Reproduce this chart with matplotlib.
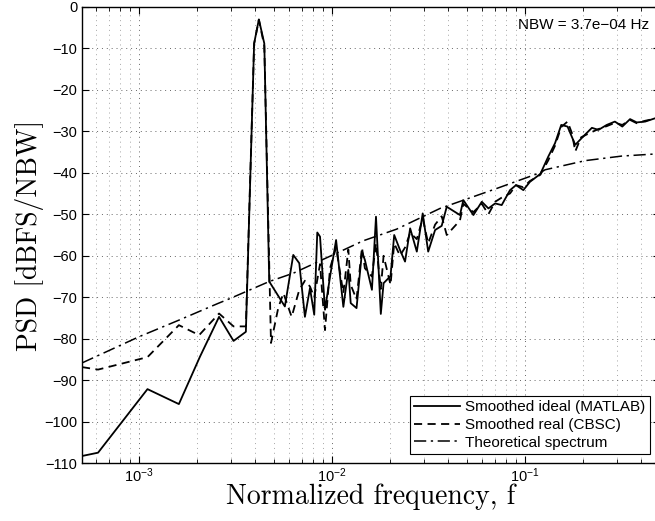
import numpy as np
import matplotlib.pyplot as plt
from matplotlib.ticker import LogLocator, NullFormatter

plt.rcParams['font.family'] = ['Liberation Sans', 'DejaVu Sans']
plt.rcParams['mathtext.fontset'] = 'custom'
plt.rcParams['mathtext.rm'] = 'Liberation Sans'
plt.rcParams['mathtext.it'] = 'Liberation Sans:italic'
plt.rcParams['mathtext.default'] = 'regular'

# Smoothed ideal (MATLAB)
f_ideal = [5.07e-4, 6.14e-4, 1.107e-3, 1.61e-3, 2.07e-3, 2.60e-3, 3.09e-3, 3.58e-3,
           3.95e-3, 4.18e-3, 4.46e-3, 4.73e-3, 5.70e-3, 6.30e-3, 6.77e-3, 7.24e-3,
           7.69e-3, 8.09e-3, 8.39e-3, 8.67e-3, 9.20e-3, 9.77e-3, 1.05e-2, 1.145e-2,
           1.215e-2, 1.25e-2, 1.34e-2, 1.43e-2, 1.48e-2, 1.61e-2, 1.69e-2, 1.79e-2,
           1.85e-2, 2.01e-2, 2.10e-2, 2.25e-2, 2.39e-2, 2.54e-2, 2.75e-2, 2.95e-2,
           3.15e-2, 3.42e-2, 3.70e-2, 3.93e-2, 4.60e-2, 4.79e-2, 5.40e-2, 5.97e-2,
           6.46e-2, 7.00e-2, 7.57e-2, 8.36e-2, 8.98e-2, 9.80e-2, 0.106, 0.120,
           0.132, 0.143, 0.154, 0.166, 0.182, 0.200, 0.222, 0.240, 0.265, 0.292,
           0.319, 0.350, 0.379, 0.419, 0.472, 0.5]
psd_ideal = [-108.2, -107.4, -92.1, -95.7, -84.3, -74.7, -80.5, -78.3,
             -8.9, -3.1, -8.9, -66.2, -72.2, -59.8, -61.8, -74.7,
             -67.8, -74.2, -54.4, -55.4, -73.0, -65.0, -56.2, -72.3,
             -63.4, -71.4, -72.6, -59.0, -61.0, -68.2, -50.6, -74.0,
             -66.6, -64.9, -55.0, -58.6, -61.4, -53.4, -59.0, -49.8,
             -59.0, -53.8, -52.8, -48.2, -50.2, -46.6, -50.2, -47.0,
             -48.6, -47.4, -47.8, -44.2, -43.0, -44.2, -42.2, -40.3,
             -36.1, -32.9, -28.5, -28.9, -33.3, -31.3, -29.2, -29.7, -28.5, -27.7,
             -28.9, -27.1, -27.9, -27.7, -26.9, -26.8]

# Smoothed real (CBSC)
f_real = [5.07e-4, 6.14e-4, 1.107e-3, 1.61e-3, 2.05e-3, 2.60e-3, 3.09e-3, 3.58e-3,
          3.95e-3, 4.18e-3, 4.46e-3, 4.83e-3, 5.27e-3, 5.60e-3, 6.18e-3, 6.77e-3,
          7.24e-3, 7.69e-3, 8.09e-3, 8.67e-3, 9.20e-3, 9.77e-3, 1.05e-2, 1.145e-2,
          1.215e-2, 1.25e-2, 1.34e-2, 1.43e-2, 1.48e-2, 1.61e-2, 1.69e-2, 1.79e-2,
          1.85e-2, 2.01e-2, 2.10e-2, 2.25e-2, 2.39e-2, 2.54e-2, 2.75e-2, 2.95e-2,
          3.15e-2, 3.42e-2, 3.70e-2, 3.93e-2, 4.60e-2, 4.79e-2, 5.40e-2, 5.97e-2,
          6.46e-2, 7.00e-2, 7.57e-2, 8.36e-2, 8.98e-2, 9.80e-2, 0.106, 0.120,
          0.132, 0.143, 0.154, 0.166, 0.175, 0.182, 0.195, 0.215, 0.240, 0.265,
          0.292, 0.319, 0.350, 0.379, 0.419, 0.472, 0.5]
psd_real = [-86.8, -87.4, -84.4, -76.7, -79.1, -73.9, -77.0, -77.0,
            -9.0, -3.2, -9.5, -81.0, -72.5, -69.0, -74.7, -68.2,
            -66.0, -67.4, -70.0, -62.0, -77.9, -63.0, -58.0, -69.0,
            -58.5, -67.0, -70.5, -58.0, -63.0, -65.0, -57.0, -68.0,
            -60.0, -67.0, -57.0, -60.0, -58.0, -54.5, -56.0, -51.0,
            -57.0, -52.5, -50.5, -55.0, -51.5, -47.5, -49.5, -47.5,
            -50.0, -47.0, -46.0, -45.0, -43.0, -43.5, -42.0, -40.5,
            -37.0, -33.5, -29.0, -27.7, -30.5, -34.9, -31.5, -30.5, -29.5, -28.8,
            -28.0, -28.5, -27.3, -28.1, -27.5, -27.0, -26.8]

# Theoretical spectrum
f_theory = [5.07e-4, 1.0e-3, 1.61e-3, 2.56e-3, 2.96e-3, 4.73e-3, 6.30e-3, 1.1e-2,
            1.45e-2, 2.16e-2, 3.63e-2, 7.13e-2, 0.120, 0.127, 0.205, 0.317, 0.472, 0.5]
psd_theory = [-85.8, -79.5, -75.5, -71.5, -70.3, -66.2, -64.2, -59.0,
              -56.4, -53.6, -48.6, -43.8, -40.0, -39.3, -37.1, -36.0, -35.5, -35.4]

yticks = np.arange(-110, 1, 10)

fig = plt.figure(figsize=(6.55, 5.21), dpi=100)
ax = fig.add_axes([0.1252, 0.1104, 0.8824, 0.8771])

ax.semilogx(f_ideal, psd_ideal, 'k-', lw=1.3, label='Smoothed ideal (MATLAB)')
ax.semilogx(f_real, psd_real, 'k--', lw=1.3, dashes=(4.5, 3), label='Smoothed real (CBSC)')
ax.semilogx(f_theory, psd_theory, 'k-.', lw=1.1, dashes=(8, 3, 1.5, 3), label='Theoretical spectrum')

ax.set_xlim(5.07e-4, 0.5)
ax.set_ylim(-110, 0)
ax.set_yticks(yticks)
ax.xaxis.set_major_locator(LogLocator(base=10, numticks=10))
ax.xaxis.set_minor_locator(LogLocator(base=10, subs=np.arange(2, 10), numticks=20))
ax.xaxis.set_minor_formatter(NullFormatter())

ax.grid(True, which='major', color='0.4', linestyle=(0, (1, 4)), linewidth=0.7)
ax.grid(True, which='minor', axis='x', color='0.65', linestyle=(0, (1, 4)), linewidth=0.7)

ax.tick_params(which='both', direction='in', top=True, right=True, labelsize=10.5)
ax.tick_params(which='major', length=5, width=0.8)
ax.tick_params(which='minor', length=3, width=0.6)
ax.tick_params(axis='x', pad=2)
for s in ax.spines.values():
    s.set_linewidth(1.0)

ax.set_xlabel('Normalized frequency, f', fontsize=20, fontfamily='cmr10', labelpad=-1)
ax.set_ylabel('PSD [dBFS/NBW]', fontsize=20, fontfamily='cmr10', labelpad=0)

ax.text(0.981, 0.975, 'NBW = 3.7e\u221204 Hz', transform=ax.transAxes, ha='right', va='top', fontsize=11)

leg = ax.legend(loc='lower right', bbox_to_anchor=(0.982, 0.02), fontsize=11, frameon=True,
                fancybox=False, framealpha=1, edgecolor='k', handlelength=3.0,
                borderpad=0.3, labelspacing=0.25, handletextpad=0.3, borderaxespad=0)
leg.get_frame().set_linewidth(0.8)

fig.savefig('out.png', dpi=100)
